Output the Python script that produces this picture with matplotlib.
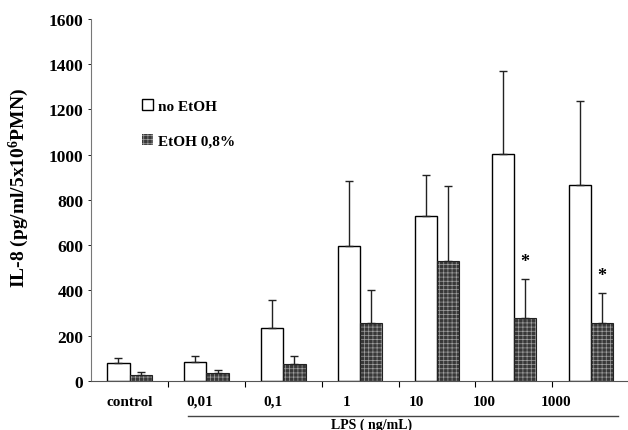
import numpy as np
import matplotlib.pyplot as plt
from matplotlib.lines import Line2D

plt.rcParams['font.family'] = ['Liberation Serif', 'DejaVu Serif']
plt.rcParams['font.weight'] = 'bold'
plt.rcParams['mathtext.fontset'] = 'custom'
plt.rcParams['mathtext.rm'] = 'Liberation Serif:bold'
plt.rcParams['mathtext.bf'] = 'Liberation Serif:bold'
plt.rcParams['mathtext.default'] = 'rm'
plt.rcParams['hatch.linewidth'] = 0.5

groups = ['control', '0,01', '0,1', '1', '10', '100', '1000']
no_etoh = [78, 84, 234, 597, 728, 1003, 867]
no_etoh_err = [24, 26, 124, 288, 183, 367, 371]
etoh = [26, 35, 75, 256, 530, 278, 256]
etoh_err = [14, 15, 35, 146, 332, 173, 133]
signif = [False, False, False, False, False, True, True]

fig = plt.figure(figsize=(6.28, 4.31), dpi=100)
ax = fig.add_axes([0.145, 0.1137, 0.857, 0.84])

x = np.arange(len(groups))
w = 0.29
b1 = ax.bar(x - w / 2, no_etoh, w, color='white', edgecolor='black', linewidth=1.0,
            label='no EtOH')
b2 = ax.bar(x + w / 2, etoh, w, color='#383838', edgecolor='#a0a0a0', linewidth=0,
            hatch='++++', label='EtOH 0,8%')
ax.bar(x + w / 2, etoh, w, fill=False, edgecolor='#222222', linewidth=0.8)
ax.errorbar(x - w / 2, no_etoh, yerr=[np.zeros(len(x)), no_etoh_err], fmt='none',
            ecolor='#222222', elinewidth=1.0, capsize=3, capthick=1.0)
ax.errorbar(x + w / 2, etoh, yerr=[np.zeros(len(x)), etoh_err], fmt='none',
            ecolor='#222222', elinewidth=1.0, capsize=3, capthick=1.0)

for i in range(len(x)):
    if signif[i]:
        ax.text(x[i] + w / 2, etoh[i] + etoh_err[i] + 40, '*', ha='center', va='bottom',
                fontsize=13)

ax.set_xlim(-0.5, 6.5)
ax.set_ylim(0, 1600)
ax.set_yticks(range(0, 1601, 200))
ax.tick_params(axis='y', labelsize=12.5, length=2, direction='out', width=0.6)
ax.set_xticks(np.arange(0.5, 6, 1))
ax.set_xticklabels([])
ax.tick_params(axis='x', length=4, direction='out', width=0.8)
for s in ['top', 'right']:
    ax.spines[s].set_visible(False)
ax.spines['left'].set_color('#777777')
ax.spines['bottom'].set_color('#555555')

fig.text(19 / 628, 1 - 188 / 431, 'IL-8 (pg/ml/5x10$^{6}$PMN)', rotation=90,
         ha='center', va='center', fontsize=14, fontweight='bold')

# group labels (placed as in the original, slightly left of bar centers)
label_pos = [0.0, 0.92, 1.87, 2.82, 3.73, 4.62, 5.55]
for p, g in zip(label_pos, groups):
    ax.text(p, -0.056, g, transform=ax.get_xaxis_transform(), ha='center', va='center',
            fontsize=11)

fig.add_artist(Line2D([188 / 628, 618 / 628], [1 - 417 / 431, 1 - 417 / 431],
                      color='#444444', linewidth=1.0))
fig.text(372 / 628, 1 - 425 / 431, 'LPS ( ng/mL)', ha='center', va='center', fontsize=10)

ax.legend(handles=[b1, b2], loc='upper left', bbox_to_anchor=(134 / 628, 1 - 92 / 431),
          bbox_transform=fig.transFigure, frameon=False, fontsize=11,
          handlelength=0.75, handleheight=0.75, handletextpad=0.3, labelspacing=1.4,
          borderpad=0)

fig.savefig('out.png', dpi=100)
